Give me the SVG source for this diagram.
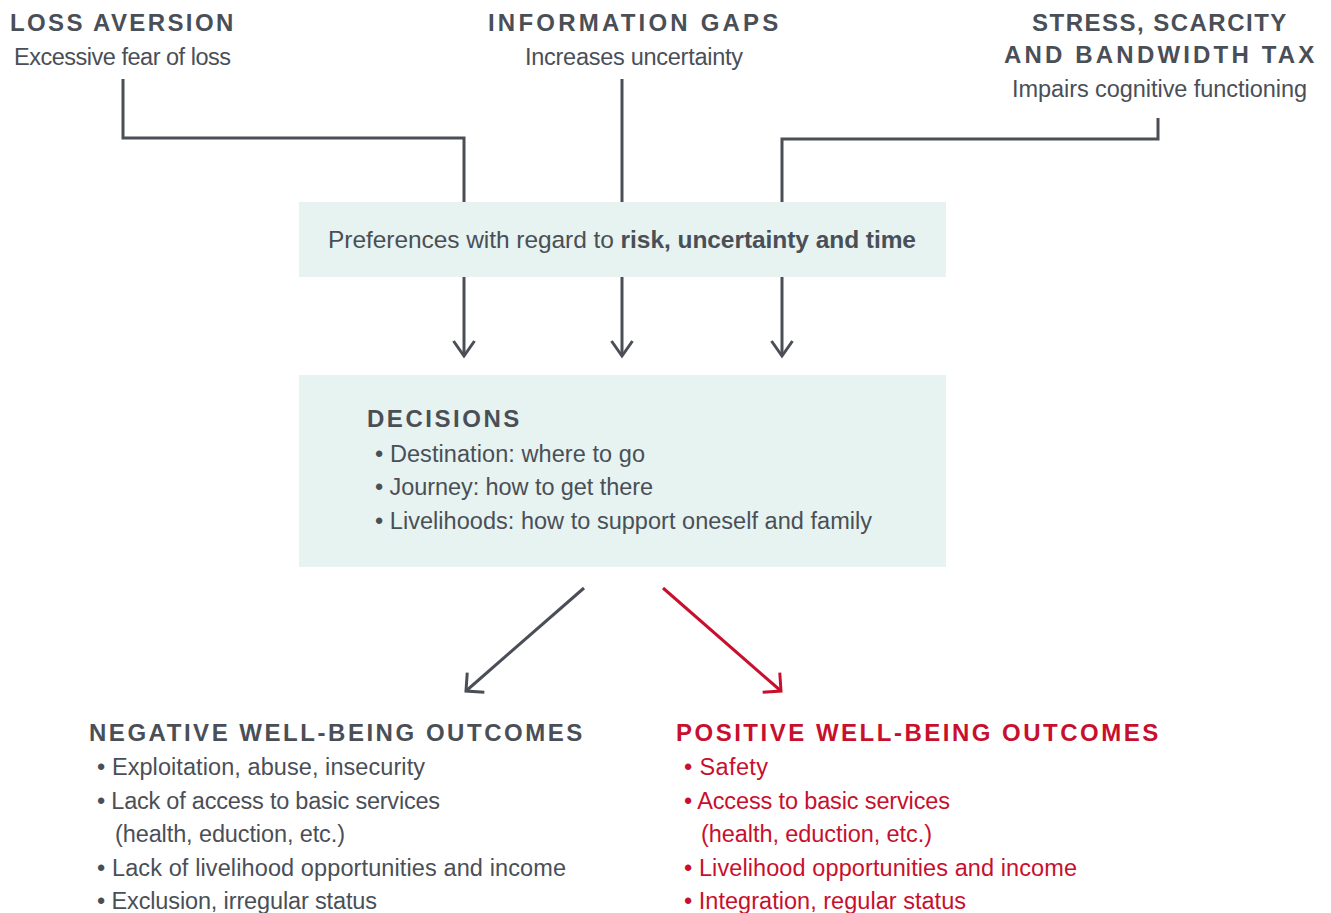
<svg xmlns="http://www.w3.org/2000/svg" width="1331" height="913" viewBox="0 0 1331 913">
<defs>
<style>
.h{font-family:"Liberation Sans",Arial,sans-serif;font-weight:bold;font-size:24px;letter-spacing:2.7px;fill:#4a4f57}
.t{font-family:"Liberation Sans",Arial,sans-serif;font-size:23.5px;fill:#4a4f57}
.p{font-size:24.5px}
.b{font-weight:bold}
.red{fill:#c8102e}
.box{fill:#e6f3f0}
.ln{fill:none;stroke:#4a4f57;stroke-width:3}
.lr{fill:none;stroke:#c8102e;stroke-width:3}
</style>
<marker id="av" markerUnits="userSpaceOnUse" markerWidth="40" markerHeight="40" viewBox="-20 -20 40 40" refX="0" refY="0" orient="auto" overflow="visible">
<path d="M-15,-10.5 L0,0 L-15,10.5" fill="none" stroke="#4a4f57" stroke-width="3"/>
</marker>
<marker id="ag" markerUnits="userSpaceOnUse" markerWidth="40" markerHeight="40" viewBox="-20 -20 40 40" refX="0" refY="0" orient="auto" overflow="visible">
<path d="M-13,-13 L0,0 L-13,13" fill="none" stroke="#4a4f57" stroke-width="3"/>
</marker>
<marker id="ar" markerUnits="userSpaceOnUse" markerWidth="40" markerHeight="40" viewBox="-20 -20 40 40" refX="0" refY="0" orient="auto" overflow="visible">
<path d="M-13,-13 L0,0 L-13,13" fill="none" stroke="#c8102e" stroke-width="3"/>
</marker>
</defs>
<rect width="1331" height="913" fill="#ffffff"/>

<g id="connectors">
<path class="ln" d="M123,79 V138 H464 V202"/>
<path class="ln" d="M622,79 V202"/>
<path class="ln" d="M1158,118 V139 H782 V202"/>
<path class="ln" d="M464,277 V356" marker-end="url(#av)"/>
<path class="ln" d="M622,277 V356" marker-end="url(#av)"/>
<path class="ln" d="M782,277 V356" marker-end="url(#av)"/>
<path class="ln" d="M584,588 L466,691" marker-end="url(#ag)"/>
<path class="lr" d="M663,588 L781,691" marker-end="url(#ar)"/>
</g>

<g id="loss-aversion">
<text class="h" x="10" y="31" textLength="226" lengthAdjust="spacing">LOSS AVERSION</text>
<text class="t" x="14" y="65" textLength="217" lengthAdjust="spacing">Excessive fear of loss</text>
</g>

<g id="information-gaps">
<text class="h" x="488" y="31" textLength="293" lengthAdjust="spacing">INFORMATION GAPS</text>
<text class="t" x="525" y="65" textLength="218" lengthAdjust="spacing">Increases uncertainty</text>
</g>

<g id="stress">
<text class="h" x="1032" y="31" textLength="257" lengthAdjust="spacing">STRESS, SCARCITY</text>
<text class="h" x="1004" y="63" textLength="313" lengthAdjust="spacing">AND BANDWIDTH TAX</text>
<text class="t" x="1012" y="97" textLength="295" lengthAdjust="spacing">Impairs cognitive functioning</text>
</g>

<g id="preferences">
<rect class="box" x="299" y="202" width="647" height="75"/>
<text class="t p" x="328" y="248" textLength="588" lengthAdjust="spacing">Preferences with regard to <tspan class="b">risk, uncertainty and time</tspan></text>
</g>

<g id="decisions">
<rect class="box" x="299" y="375" width="647" height="192"/>
<text class="h" x="367" y="427" textLength="155" lengthAdjust="spacing">DECISIONS</text>
<text class="t" x="375" y="462" textLength="270" lengthAdjust="spacing">• Destination: where to go</text>
<text class="t" x="375" y="495" textLength="278" lengthAdjust="spacing">• Journey: how to get there</text>
<text class="t" x="375" y="529" textLength="497" lengthAdjust="spacing">• Livelihoods: how to support oneself and family</text>
</g>

<g id="negative-outcomes">
<text class="h" x="89" y="741" textLength="496" lengthAdjust="spacing">NEGATIVE WELL-BEING OUTCOMES</text>
<text class="t" x="97" y="775" textLength="328" lengthAdjust="spacing">• Exploitation, abuse, insecurity</text>
<text class="t" x="97" y="809" textLength="343" lengthAdjust="spacing">• Lack of access to basic services</text>
<text class="t" x="115" y="842" textLength="230" lengthAdjust="spacing">(health, eduction, etc.)</text>
<text class="t" x="97" y="876" textLength="469" lengthAdjust="spacing">• Lack of livelihood opportunities and income</text>
<text class="t" x="97" y="909" textLength="280" lengthAdjust="spacing">• Exclusion, irregular status</text>
</g>

<g id="positive-outcomes">
<text class="h red" x="676" y="741" textLength="485" lengthAdjust="spacing">POSITIVE WELL-BEING OUTCOMES</text>
<text class="t red" x="684" y="775" textLength="84" lengthAdjust="spacing">• Safety</text>
<text class="t red" x="684" y="809" textLength="266" lengthAdjust="spacing">• Access to basic services</text>
<text class="t red" x="701" y="842" textLength="231" lengthAdjust="spacing">(health, eduction, etc.)</text>
<text class="t red" x="684" y="876" textLength="393" lengthAdjust="spacing">• Livelihood opportunities and income</text>
<text class="t red" x="684" y="909" textLength="282" lengthAdjust="spacing">• Integration, regular status</text>
</g>
</svg>
